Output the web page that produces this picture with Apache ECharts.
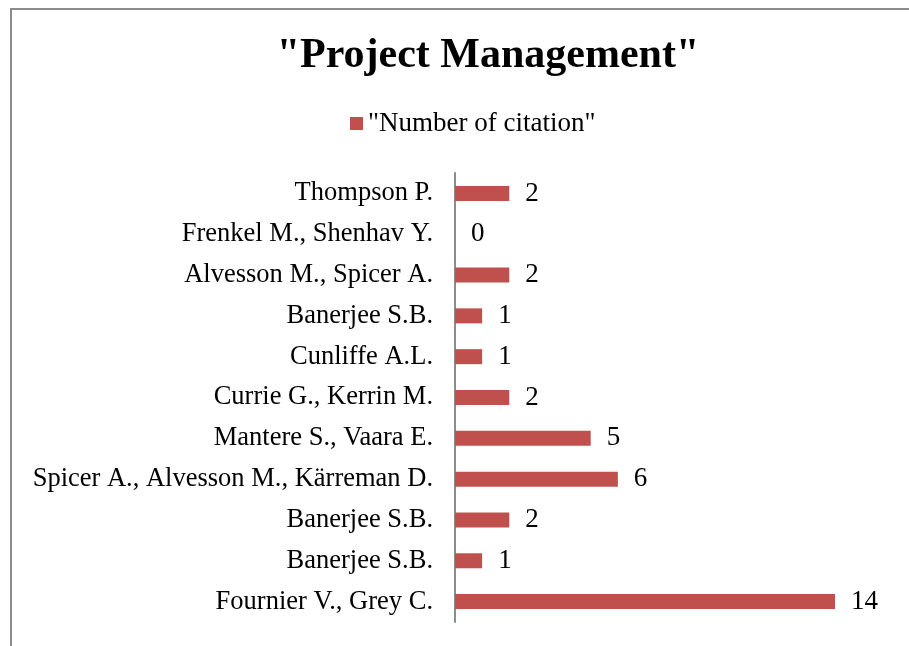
<!DOCTYPE html>
<html>
<head>
<meta charset="utf-8">
<script src="https://cdn.jsdelivr.net/npm/echarts@6/dist/echarts.min.js"></script>
<style>
  html, body { margin: 0; padding: 0; background: #fff; }
  #chart { width: 909px; height: 646px; }
</style>
</head>
<body>
<div id="chart"></div>
<script>
// top to bottom, as in the source chart
const authors = [
  'Thompson P.',
  'Frenkel M., Shenhav Y.',
  'Alvesson M., Spicer A.',
  'Banerjee S.B.',
  'Cunliffe A.L.',
  'Currie G., Kerrin M.',
  'Mantere S., Vaara E.',
  'Spicer A., Alvesson M., Kärreman D.',
  'Banerjee S.B.',
  'Banerjee S.B.',
  'Fournier V., Grey C.'
]
const citations = [2, 0, 2, 1, 1, 2, 5, 6, 2, 1, 14]

const serif = '"Liberation Serif", "Times New Roman", serif'

const chart = echarts.init(document.getElementById('chart'))
chart.setOption({
  animation: false,
  textStyle: { fontFamily: serif },
  title: {
    text: '"Project Management"',
    left: 483,
    textAlign: 'center',
    top: 30,
    textStyle: { fontFamily: serif, fontSize: 42, fontWeight: 'bold', color: '#000' }
  },
  legend: {
    data: ['"Number of citation"'],
    left: 345,
    top: 105,
    icon: 'rect',
    itemWidth: 13,
    itemHeight: 13,
    itemGap: 8,
    textStyle: { fontFamily: serif, fontSize: 27, color: '#000' }
  },
  graphic: [{
    type: 'rect',
    shape: { x: 11, y: 9, width: 960, height: 700 },
    style: { fill: 'none', stroke: '#8c8c8c', lineWidth: 2 },
    silent: true
  }],
  grid: { left: 455, top: 173, width: 380, height: 449 },
  xAxis: {
    type: 'value',
    min: 0,
    max: 14,
    show: false,
    splitLine: { show: false }
  },
  yAxis: {
    type: 'category',
    inverse: true,
    data: authors,
    axisLine: { lineStyle: { color: '#8c8c8c', width: 2 } },
    axisTick: { show: false },
    axisLabel: { fontFamily: serif, fontSize: 26.5, color: '#000', margin: 22 }
  },
  series: [{
    name: '"Number of citation"',
    type: 'bar',
    data: citations,
    barWidth: 15,
    itemStyle: { color: '#c0504d' },
    label: {
      show: true,
      position: 'right',
      distance: 16,
      fontFamily: serif,
      fontSize: 27,
      color: '#000'
    }
  }]
})
</script>
</body>
</html>
